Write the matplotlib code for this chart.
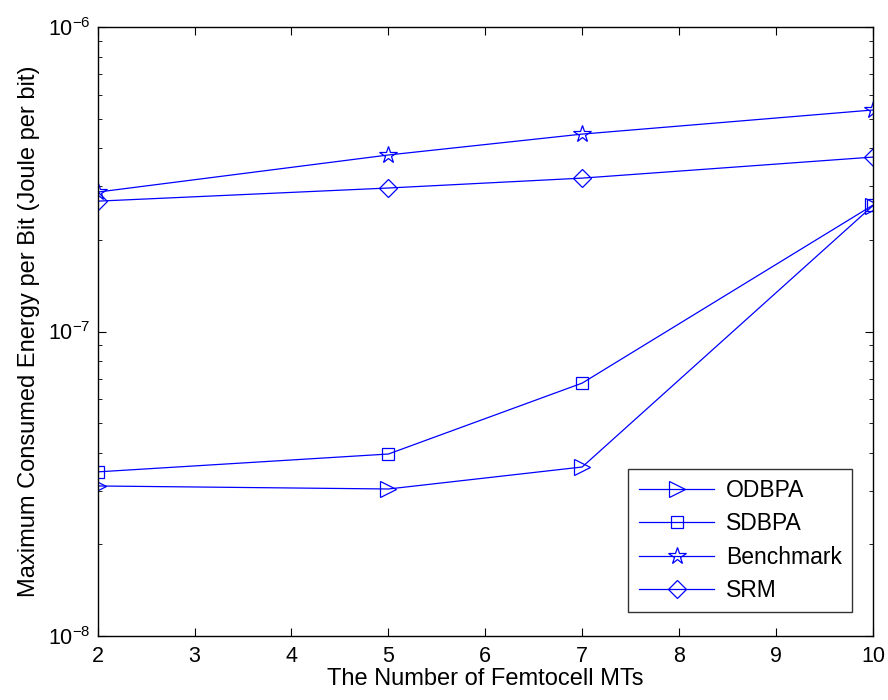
import matplotlib
matplotlib.use("Agg")
import matplotlib.pyplot as plt
from matplotlib.ticker import LogLocator, NullFormatter

plt.rcParams['font.family'] = ['Liberation Sans', 'DejaVu Sans']
plt.rcParams['mathtext.default'] = 'regular'

# data
mts = [2, 5, 7, 10]
odbpa = [3.11e-8, 3.04e-8, 3.59e-8, 2.59e-7]
sdbpa = [3.46e-8, 3.96e-8, 6.77e-8, 2.60e-7]
benchmark = [2.87e-7, 3.80e-7, 4.45e-7, 5.34e-7]
srm = [2.68e-7, 2.96e-7, 3.19e-7, 3.74e-7]

fig = plt.figure(figsize=(8.88, 7.0), dpi=100)
ax = fig.add_axes([0.110, 0.0914, 0.873, 0.870])

style = dict(color='blue', lw=0.9, markerfacecolor='none', markeredgecolor='blue',
             markeredgewidth=0.9)
ax.plot(mts, odbpa, marker='>', ms=12, label='ODBPA', **style)
ax.plot(mts, sdbpa, marker='s', ms=9, label='SDBPA', **style)
ax.plot(mts, benchmark, marker='*', ms=13, label='Benchmark', **style)
ax.plot(mts, srm, marker='D', ms=9.5, label='SRM', **style)

ax.set_yscale('log')
ax.set_xlim(2, 10)
ax.set_ylim(1e-8, 1e-6)
ax.set_xticks(range(2, 11))
ax.yaxis.set_minor_locator(LogLocator(base=10, subs=range(2, 10)))
ax.yaxis.set_minor_formatter(NullFormatter())

ax.tick_params(which='both', direction='in', top=True, right=True, labelsize=15.5)
ax.tick_params(which='major', length=6)
ax.tick_params(which='minor', length=3)
ax.tick_params(axis='x', pad=7)
ax.tick_params(axis='y', pad=5)
for s in ax.spines.values():
    s.set_linewidth(1.0)

ax.set_xlabel('The Number of Femtocell MTs', fontsize=17, labelpad=1)
ax.set_ylabel('Maximum Consumed Energy per Bit (Joule per bit)', fontsize=17, labelpad=6)

leg = ax.legend(loc='lower right', fontsize=16.5, fancybox=False, edgecolor='black',
                handlelength=3.3, borderpad=0.45, labelspacing=0.45, handletextpad=0.5,
                borderaxespad=0, bbox_to_anchor=(0.973, 0.039))
leg.get_frame().set_linewidth(1.0)

fig.savefig('out.png', dpi=100)
